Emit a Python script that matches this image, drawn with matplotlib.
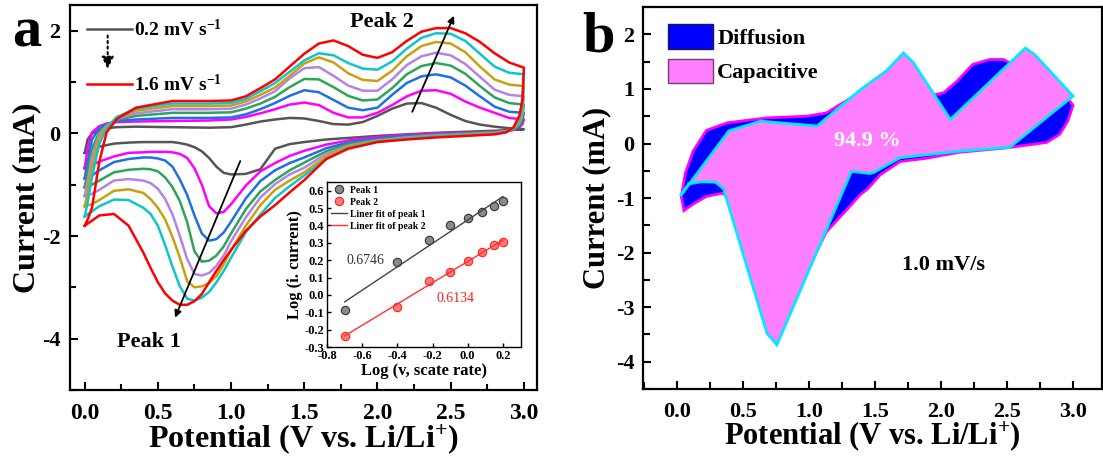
import numpy as np
import matplotlib
matplotlib.use('Agg')
from matplotlib import pyplot as plt
from matplotlib.patches import Patch
from matplotlib.ticker import MultipleLocator, FormatStrFormatter

plt.rcParams['font.family'] = 'Liberation Serif'
plt.rcParams['font.weight'] = 'bold'
plt.rcParams['axes.labelweight'] = 'bold'
plt.rcParams['mathtext.fontset'] = 'custom'
plt.rcParams['mathtext.rm'] = 'Liberation Serif:bold'
plt.rcParams['mathtext.default'] = 'rm'
plt.rcParams['axes.unicode_minus'] = False
plt.rcParams['axes.linewidth'] = 1.6

# ---- panel a: CV curves at different scan rates ----
rates = ['0.2', '0.4', '0.6', '0.8', '1.0', '1.2', '1.4', '1.6']
colors = ['#555555', '#ff00ff', '#1f6fe5', '#2ea35a', '#b384e6', '#c9a010', '#10c5c8', '#ff0000']

v_ox = [0.00, 0.02, 0.05, 0.10, 0.15, 0.22, 0.35, 0.60, 0.85, 1.00, 1.10, 1.20, 1.30, 1.40, 1.50,
        1.60, 1.70, 1.80, 1.90, 2.00, 2.10, 2.20, 2.30, 2.40, 2.50, 2.60, 2.70, 2.80, 2.90, 3.00]
v_red = [3.00, 2.99, 2.97, 2.93, 2.88, 2.80, 2.60, 2.40, 2.20, 2.00, 1.80, 1.65, 1.50, 1.40, 1.30,
         1.20, 1.10, 1.00, 0.95, 0.90, 0.85, 0.80, 0.75, 0.70, 0.65, 0.60, 0.55, 0.50, 0.45, 0.40,
         0.30, 0.20, 0.10, 0.05, 0.00]

ox_02 = [-0.38, -0.12, 0.00, 0.06, 0.10, 0.12, 0.13, 0.12, 0.11, 0.12, 0.17, 0.23, 0.27, 0.30, 0.29,
         0.24, 0.18, 0.17, 0.22, 0.34, 0.48, 0.58, 0.59, 0.50, 0.36, 0.24, 0.17, 0.13, 0.10, 0.08]
ox_04 = [-0.68, -0.30, 0.02, 0.14, 0.19, 0.22, 0.23, 0.24, 0.25, 0.27, 0.32, 0.39, 0.47, 0.56, 0.60,
         0.55, 0.40, 0.31, 0.31, 0.40, 0.55, 0.72, 0.83, 0.84, 0.77, 0.62, 0.50, 0.40, 0.30, 0.27]
ox_06 = [-0.88, -0.55, -0.12, 0.10, 0.18, 0.24, 0.27, 0.30, 0.30, 0.31, 0.37, 0.47, 0.59, 0.73, 0.84,
         0.80, 0.65, 0.50, 0.45, 0.50, 0.75, 0.98, 1.11, 1.15, 1.09, 0.93, 0.72, 0.52, 0.42, 0.40]
ox_08 = [-1.05, -0.75, -0.30, 0.03, 0.16, 0.26, 0.34, 0.40, 0.40, 0.41, 0.48, 0.58, 0.71, 0.90, 1.06,
         1.05, 0.90, 0.73, 0.64, 0.66, 0.88, 1.15, 1.31, 1.37, 1.32, 1.16, 0.92, 0.70, 0.59, 0.56]
ox_10 = [-1.22, -0.95, -0.45, -0.02, 0.15, 0.28, 0.39, 0.47, 0.47, 0.48, 0.56, 0.68, 0.82, 1.07, 1.27,
         1.29, 1.12, 0.93, 0.83, 0.83, 1.05, 1.33, 1.50, 1.57, 1.52, 1.35, 1.10, 0.85, 0.75, 0.72]
ox_12 = [-1.42, -1.15, -0.62, -0.08, 0.13, 0.30, 0.44, 0.53, 0.53, 0.54, 0.62, 0.75, 0.89, 1.12, 1.36,
         1.48, 1.38, 1.17, 1.04, 1.02, 1.22, 1.50, 1.70, 1.78, 1.75, 1.58, 1.30, 1.05, 0.95, 0.92]
ox_14 = [-1.62, -1.35, -0.85, -0.20, 0.10, 0.32, 0.48, 0.58, 0.58, 0.59, 0.67, 0.82, 0.98, 1.20, 1.42,
         1.56, 1.52, 1.37, 1.26, 1.24, 1.40, 1.65, 1.86, 1.95, 1.94, 1.80, 1.55, 1.30, 1.18, 1.15]
ox_16 = [-1.80, -1.68, -1.45, -0.55, 0.02, 0.28, 0.50, 0.63, 0.63, 0.64, 0.72, 0.88, 1.05, 1.30, 1.55,
         1.75, 1.81, 1.70, 1.53, 1.47, 1.58, 1.80, 1.98, 2.05, 2.05, 1.95, 1.78, 1.56, 1.38, 1.28]

red_02 = [0.08, 0.08, 0.07, 0.07, 0.06, 0.05, 0.03, 0.01, -0.02, -0.05, -0.09, -0.12, -0.17, -0.21, -0.30,
          -0.70, -0.79, -0.80, -0.77, -0.65, -0.48, -0.35, -0.27, -0.22, -0.19, -0.17, -0.17, -0.17, -0.17, -0.17,
          -0.18, -0.20, -0.26, -0.31, -0.38]
red_04 = [0.27, 0.18, 0.12, 0.07, 0.04, 0.03, 0.01, 0.00, -0.03, -0.07, -0.14, -0.22, -0.34, -0.44, -0.58,
          -0.74, -1.02, -1.38, -1.53, -1.56, -1.42, -1.00, -0.68, -0.48, -0.40, -0.37, -0.36, -0.36, -0.36, -0.37,
          -0.38, -0.45, -0.55, -0.62, -0.68]
red_06 = [0.40, 0.25, 0.13, 0.07, 0.04, 0.02, 0.00, -0.02, -0.05, -0.10, -0.18, -0.29, -0.47, -0.58, -0.72,
          -0.93, -1.27, -1.72, -1.93, -2.06, -2.09, -1.95, -1.60, -1.20, -0.90, -0.65, -0.53, -0.49, -0.47, -0.47,
          -0.50, -0.56, -0.72, -0.82, -0.88]
red_08 = [0.56, 0.30, 0.16, 0.08, 0.04, 0.02, 0.00, -0.03, -0.07, -0.12, -0.21, -0.35, -0.57, -0.72, -0.91,
          -1.13, -1.48, -1.95, -2.20, -2.38, -2.48, -2.50, -2.30, -1.73, -1.32, -1.05, -0.86, -0.74, -0.70, -0.69,
          -0.71, -0.76, -0.92, -1.00, -1.05]
red_10 = [0.72, 0.38, 0.20, 0.09, 0.04, 0.01, -0.02, -0.04, -0.08, -0.14, -0.24, -0.40, -0.67, -0.80, -0.99,
          -1.25, -1.64, -2.10, -2.38, -2.58, -2.72, -2.77, -2.74, -2.45, -2.00, -1.58, -1.28, -1.08, -0.97, -0.92,
          -0.89, -0.92, -1.10, -1.18, -1.22]
red_12 = [0.92, 0.45, 0.22, 0.10, 0.04, 0.00, -0.03, -0.05, -0.09, -0.15, -0.25, -0.45, -0.76, -0.92, -1.10,
          -1.40, -1.80, -2.28, -2.55, -2.78, -2.92, -2.98, -3.00, -2.88, -2.42, -2.02, -1.68, -1.45, -1.28, -1.16,
          -1.09, -1.12, -1.30, -1.38, -1.42]
red_14 = [1.15, 0.55, 0.28, 0.11, 0.03, -0.01, -0.04, -0.06, -0.10, -0.16, -0.28, -0.50, -0.82, -1.03, -1.26,
          -1.58, -1.93, -2.42, -2.68, -2.90, -3.09, -3.20, -3.26, -3.22, -2.98, -2.60, -2.18, -1.80, -1.57, -1.45,
          -1.30, -1.29, -1.42, -1.52, -1.62]
red_16 = [1.28, 0.66, 0.35, 0.12, 0.02, -0.02, -0.05, -0.08, -0.12, -0.17, -0.30, -0.50, -0.91, -1.15, -1.40,
          -1.62, -1.90, -2.27, -2.47, -2.68, -2.90, -3.13, -3.27, -3.34, -3.34, -3.26, -3.12, -2.90, -2.62, -2.32,
          -1.80, -1.57, -1.60, -1.70, -1.80]

anodic = [ox_02, ox_04, ox_06, ox_08, ox_10, ox_12, ox_14, ox_16]
cathodic = [red_02, red_04, red_06, red_08, red_10, red_12, red_14, red_16]

# inset: log(peak current) vs log(scan rate)
log_v = [-0.70, -0.40, -0.22, -0.10, 0.00, 0.08, 0.15, 0.20]
log_i_peak1 = [-0.085, 0.19, 0.315, 0.40, 0.44, 0.475, 0.51, 0.54]
log_i_peak2 = [-0.235, -0.07, 0.08, 0.13, 0.195, 0.245, 0.285, 0.305]

# ---- panel b: capacitive / diffusion separation at 1.0 mV/s ----
total_v = [0.03, 0.06, 0.12, 0.22, 0.38, 0.68, 0.98, 1.13, 1.34, 1.54, 1.68, 1.85, 1.94, 2.02, 2.12,
           2.24, 2.37, 2.47, 2.55, 2.64, 2.85, 2.97, 3.00, 2.98, 2.96, 2.90, 2.80, 2.65, 2.50, 2.14,
           1.89, 1.69, 1.54, 1.44, 1.39, 1.29, 1.13, 0.95, 0.76, 0.60, 0.40, 0.34, 0.22, 0.12, 0.05]
total_i = [-0.97, -0.55, -0.14, 0.24, 0.38, 0.47, 0.50, 0.56, 0.87, 1.24, 1.50, 1.15, 0.89, 0.93, 1.14,
           1.45, 1.54, 1.54, 1.45, 1.60, 1.10, 0.80, 0.70, 0.55, 0.41, 0.17, 0.02, -0.03, -0.08, -0.16,
           -0.27, -0.33, -0.57, -0.84, -0.93, -1.20, -1.62, -2.50, -3.60, -2.50, -1.00, -0.91, -0.97, -1.11, -1.23]
cap_v = [0.023, 0.39, 0.63, 1.06, 1.39, 1.58, 1.715, 1.79, 2.07, 2.64, 2.71, 3.00, 2.52, 2.14, 1.69,
         1.49, 1.46, 1.32, 0.755, 0.68, 0.35, 0.29, 0.19, 0.086]
cap_i = [-0.96, 0.23, 0.41, 0.32, 0.99, 1.32, 1.66, 1.48, 0.44, 1.75, 1.63, 0.87, -0.07, -0.14, -0.26,
         -0.53, -0.55, -0.51, -3.69, -3.48, -0.83, -0.71, -0.70, -0.74]

fig = plt.figure(figsize=(11.03, 4.59), dpi=100)

# ================= panel a =================
ax = fig.add_axes([0.0635, 0.1503, 0.4234, 0.8388])
lines = []
for ox, rd, c in zip(anodic, cathodic, colors):
    ln, = ax.plot(v_ox + v_red, ox + rd, color=c, lw=1.8, solid_joinstyle='round')
    lines.append(ln)

ax.set_xlim(-0.1, 3.09)
ax.set_ylim(-5, 2.5)
ax.xaxis.set_major_locator(MultipleLocator(0.5))
ax.xaxis.set_minor_locator(MultipleLocator(0.25))
ax.xaxis.set_major_formatter(FormatStrFormatter('%.1f'))
ax.yaxis.set_major_locator(MultipleLocator(2))
ax.yaxis.set_minor_locator(MultipleLocator(1))
ax.tick_params(which='both', direction='in', width=1.5)
ax.tick_params(which='major', length=6)
ax.tick_params(which='minor', length=4)
ax.tick_params(axis='x', labelsize=17, pad=9)
ax.tick_params(axis='y', labelsize=16, pad=7)
ax.set_xlabel('Potential (V vs. Li/Li$^{+}$)', fontsize=23)
ax.set_ylabel('Current (mA)', fontsize=23)
ax.xaxis.set_label_coords(0.5, -0.085)
ax.yaxis.set_label_coords(-0.062, 0.5)

leg = ax.legend([lines[0], lines[-1]], ['%s mV s$^{-1}$' % rates[0], '%s mV s$^{-1}$' % rates[-1]],
                loc='upper left', bbox_to_anchor=(0.036, 0.965), frameon=False, fontsize=14,
                handlelength=2.3, handletextpad=0.15, labelspacing=1.75, borderpad=0, borderaxespad=0)
ax.annotate('', xy=(0.157, 1.2), xytext=(0.157, 1.96),
            arrowprops=dict(arrowstyle='-|>', color='k', lw=1.5, ls=':', mutation_scale=18))

ax.text(2.03, 2.17, 'Peak 2', fontsize=16, ha='center', va='center')
ax.text(0.44, -4.06, 'Peak 1', fontsize=16, ha='center', va='center')
ax.annotate('', xy=(2.53, 2.34), xytext=(2.23, 0.37),
            arrowprops=dict(arrowstyle='-|>', color='k', lw=1.3, mutation_scale=10))
ax.annotate('', xy=(0.61, -3.64), xytext=(1.07, -0.49),
            arrowprops=dict(arrowstyle='-|>', color='k', lw=1.3, mutation_scale=10))

# inset
ins = fig.add_axes([0.2965, 0.244, 0.1754, 0.3595])
k1, b1 = np.polyfit(log_v, log_i_peak1, 1)
k2, b2 = np.polyfit(log_v, log_i_peak2, 1)
fit_x = np.array([log_v[0], log_v[-1]])
p1, = ins.plot(log_v, log_i_peak1, 'o', ms=6, mfc='#8a8a8a', mec='#333333', mew=0.8, ls='none')
p2, = ins.plot(log_v, log_i_peak2, 'o', ms=6, mfc='#ff7a7a', mec='#ff2020', mew=0.8, ls='none')
f1, = ins.plot(fit_x, k1 * fit_x + b1, color='#444444', lw=1)
f2, = ins.plot(fit_x, k2 * fit_x + b2, color='#ff3030', lw=1)
ins.set_xlim(-0.8, 0.3)
ins.set_ylim(-0.3, 0.65)
ins.xaxis.set_major_locator(MultipleLocator(0.2))
ins.yaxis.set_major_locator(MultipleLocator(0.1))
ins.xaxis.set_major_formatter(FormatStrFormatter('%.1f'))
ins.yaxis.set_major_formatter(FormatStrFormatter('%.1f'))
ins.tick_params(direction='in', length=3, width=1, labelsize=9, pad=2)
for s in ins.spines.values():
    s.set_linewidth(1)
ins.set_xlabel('Log (v, scate rate)', fontsize=12, labelpad=1)
ins.set_ylabel('Log (i. current)', fontsize=12, labelpad=1)
ins.legend([p1, p2, f1, f2], ['Peak 1', 'Peak 2', 'Liner fit of peak 1', 'Liner fit of peak 2'],
           loc='upper left', frameon=False, fontsize=7, handlelength=1.7, handletextpad=0.3,
           labelspacing=0.3, borderpad=0.2, borderaxespad=0.2)
ins.text(-0.69, 0.2, '%.4f' % 0.6746, fontsize=10, fontweight='normal', color='#333333', va='center')
ins.text(-0.18, -0.02, '%.4f' % 0.6134, fontsize=10, fontweight='normal', color='#ff2020', va='center')

fig.text(0.011, 0.898, 'a', fontsize=42, fontweight='bold')

# ================= panel b =================
bx = fig.add_axes([0.583, 0.1525, 0.4161, 0.832])
bx.fill(total_v, total_i, facecolor='#0000ff', edgecolor='#ff00ff', lw=2)
bx.fill(cap_v, cap_i, facecolor='#ff80ff', edgecolor='#00e8ff', lw=2)
bx.set_xlim(-0.26, 3.22)
bx.set_ylim(-4.5, 2.5)
bx.xaxis.set_major_locator(MultipleLocator(0.5))
bx.xaxis.set_minor_locator(MultipleLocator(0.25))
bx.xaxis.set_major_formatter(FormatStrFormatter('%.1f'))
bx.yaxis.set_major_locator(MultipleLocator(1))
bx.yaxis.set_minor_locator(MultipleLocator(0.5))
bx.tick_params(which='both', direction='in', width=1.5)
bx.tick_params(which='major', length=6)
bx.tick_params(which='minor', length=5)
bx.tick_params(axis='x', labelsize=16, pad=9)
bx.tick_params(axis='y', labelsize=16, pad=6)
bx.set_xlabel('Potential (V vs. Li/Li$^{+}$)', fontsize=22)
bx.set_ylabel('Current (mA)', fontsize=22)
bx.xaxis.set_label_coords(0.5, -0.08)
bx.yaxis.set_label_coords(-0.07, 0.5)
bx.legend([Patch(facecolor='#0000ff', edgecolor='#1a1a5a'), Patch(facecolor='#ff80ff', edgecolor='#7a3a7a')],
          ['Diffusion', 'Capacitive'], loc='upper left', bbox_to_anchor=(0.055, 0.955), frameon=False,
          fontsize=16, handlelength=2.0, handleheight=1.3, handletextpad=0.2, labelspacing=0.45,
          borderpad=0, borderaxespad=0)
bx.text(1.44, 0.05, '94.9 %', color='white', fontsize=16, ha='center', va='center')
bx.text(2.02, -2.23, '1.0 mV/s', color='black', fontsize=16, ha='center', va='center')

fig.text(0.528, 0.887, 'b', fontsize=42, fontweight='bold')

fig.savefig('out.png', dpi=100)
